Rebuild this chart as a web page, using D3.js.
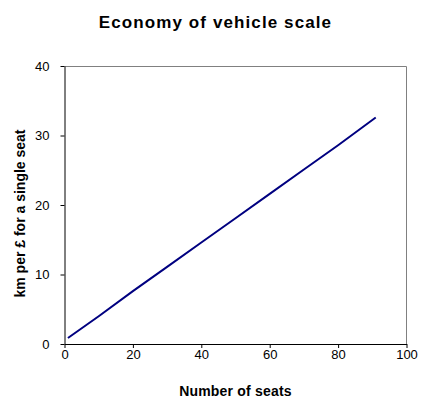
<!DOCTYPE html>
<html>
<head>
<meta charset="utf-8">
<script src="https://cdn.jsdelivr.net/npm/d3@7"></script>
<style>
  body { margin: 0; background: #fff; }
  text { font-family: Arial, "Liberation Sans", sans-serif; }
</style>
</head>
<body>
<div id="chart"></div>
<script>
// data
var seats = [1, 10, 20, 30, 40, 50, 60, 70, 80, 91];
var kmPerPound = [0.86, 4.0, 7.6, 11.1, 14.6, 18.1, 21.6, 25.1, 28.6, 32.6];
var xTicks = [0, 20, 40, 60, 80, 100];
var yTicks = [0, 10, 20, 30, 40];

var svgWidth = 430;
var svgHeight = 407;

var margins = { top: 66, bottom: 63, left: 64.5, right: 23.5 };
var width = svgWidth - margins.left - margins.right;
var height = svgHeight - margins.top - margins.bottom;

var svg = d3.select("#chart")
    .append("svg")
    .attr("width", svgWidth)
    .attr("height", svgHeight);

var group = svg.append("g")
    .attr("transform", `translate(${margins.left}, ${margins.top})`);

var xScale = d3.scaleLinear().domain([0, 100]).range([0, width]);
var yScale = d3.scaleLinear().domain([0, 40]).range([height, 0]);

//gray frame on top and right
group.append("path")
    .attr("d", `M0,0.5H${width}V${height}`)
    .attr("fill", "none")
    .attr("stroke", "#808080")
    .attr("stroke-width", 1);

var xAxis = d3.axisBottom(xScale).tickValues(xTicks).tickSize(4).tickSizeOuter(0);
var yAxis = d3.axisLeft(yScale).tickValues(yTicks).tickSize(4).tickSizeOuter(0);

var gx = group.append("g")
    .attr("transform", `translate(0, ${height})`)
    .call(xAxis);
var gy = group.append("g").call(yAxis);

[gx, gy].forEach(function(g) {
    g.selectAll("path, line").attr("stroke", "#000");
    g.selectAll("text")
        .attr("fill", "#000")
        .style("font-size", "13px");
});
gx.selectAll("text").attr("dy", "0").attr("y", 15);
gy.selectAll("text").attr("x", -15);

//the line
var line = d3.line()
    .x((d, i) => xScale(seats[i]))
    .y(d => yScale(d));

group.append("path")
    .datum(kmPerPound)
    .attr("d", line)
    .attr("fill", "none")
    .attr("stroke", "#000080")
    .attr("stroke-width", 2);

//title
svg.append("text")
    .attr("x", 215.5)
    .attr("y", 27.5)
    .attr("text-anchor", "middle")
    .style("font-size", "17px")
    .style("font-weight", "bold")
    .style("letter-spacing", "1.1px")
    .text("Economy of vehicle scale");

//x label
svg.append("text")
    .attr("x", margins.left + width / 2)
    .attr("y", 396)
    .attr("text-anchor", "middle")
    .style("font-size", "14px")
    .style("font-weight", "bold")
    .style("letter-spacing", "0.2px")
    .text("Number of seats");

//y label
svg.append("text")
    .attr("transform", `translate(25, 213.5) rotate(-90)`)
    .attr("text-anchor", "middle")
    .style("font-size", "14px")
    .style("font-weight", "bold")
    .text("km per £ for a single seat");
</script>
</body>
</html>
